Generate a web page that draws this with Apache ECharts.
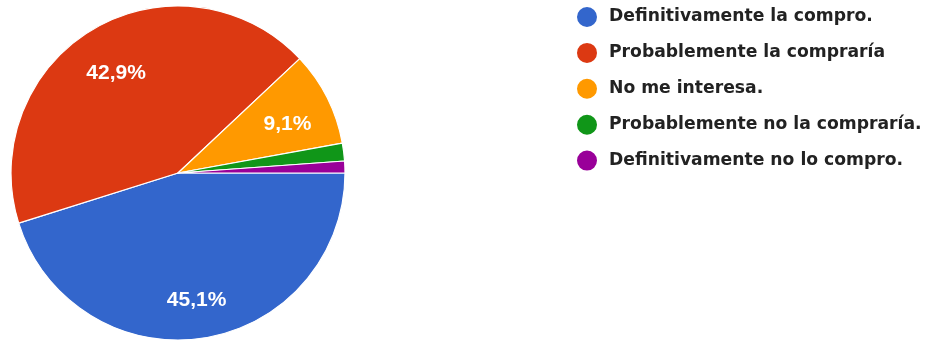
<!DOCTYPE html>
<html>
<head>
<meta charset="utf-8">
<script src="https://cdn.jsdelivr.net/npm/echarts@6/dist/echarts.min.js"></script>
<style>html,body{margin:0;padding:0;background:#fff;}#c{width:930px;height:343px;}</style>
</head>
<body>
<div id="c"></div>
<script>
const categories = ['Definitivamente la compro.', 'Probablemente la compraría', 'No me interesa.', 'Probablemente no la compraría.', 'Definitivamente no lo compro.'];
const counts = [79, 75, 16, 3, 2];
const colors = ['#3366cc', '#dc3912', '#ff9900', '#109618', '#990099'];

const data = categories.map((n, i) => ({ name: n, value: counts[i], itemStyle: { color: colors[i] } }));
const total = counts.reduce((a, b) => a + b, 0);
const fmt = p => (p.value / total * 100 >= 5) ? (p.value / total * 100).toFixed(1).replace('.', ',') + '%' : '';

const chart = echarts.init(document.getElementById('c'), null, { renderer: 'canvas' });
chart.setOption({
  animation: false,
  color: colors,
  legend: {
    orient: 'vertical',
    left: 575,
    top: 5,
    padding: 0,
    icon: 'circle',
    itemWidth: 22,
    itemHeight: 22,
    itemGap: 11.9,
    data: categories,
    textStyle: { fontFamily: 'DejaVu Sans', fontWeight: 'bold', fontSize: 17.2, lineHeight: 20, color: '#222', padding: [0, 0, 0, 6] }
  },
  series: [
    {
      type: 'pie',
      center: [178, 173],
      radius: [0, 167],
      startAngle: 0,
      clockwise: true,
      data: data,
      label: { show: false },
      labelLine: { show: false },
      itemStyle: { borderColor: '#fff', borderWidth: 1.2 },
      emphasis: { disabled: true }
    },
    {
      type: 'pie',
      center: [178, 173],
      radius: [72, 167],
      startAngle: 0,
      clockwise: true,
      silent: true,
      legendHoverLink: false,
      data: categories.map((n, i) => ({ name: n, value: counts[i], itemStyle: { color: 'rgba(0,0,0,0)' } })),
      itemStyle: { borderWidth: 0 },
      label: { show: true, position: 'inside', formatter: fmt, color: '#fff', fontFamily: 'Liberation Sans', fontWeight: 'bold', fontSize: 21, offset: [0, 6] },
      labelLine: { show: false },
      emphasis: { disabled: true },
      tooltip: { show: false }
    }
  ]
});
</script>
</body>
</html>
